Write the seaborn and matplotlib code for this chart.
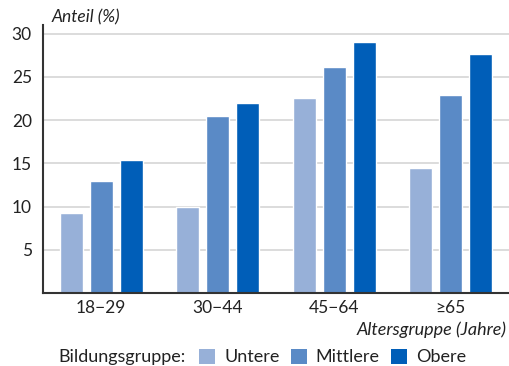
import pandas as pd
import numpy as np
import matplotlib.pyplot as plt
import seaborn as sns
from matplotlib.patches import Patch

altersgruppen = ["18\u221229", "30\u221244", "45\u221264", "\u226565"]
bildung = ["Untere", "Mittlere", "Obere"]
untere = [9.2, 10.0, 22.6, 14.5]
mittlere = [12.9, 20.5, 26.2, 22.9]
obere = [15.4, 22.0, 29.0, 27.7]
farben = ["#97b0d8", "#5a8ac6", "#005eb8"]

df = pd.DataFrame({
    "Altersgruppe": altersgruppen * 3,
    "Bildung": np.repeat(bildung, 4),
    "Anteil": untere + mittlere + obere,
})

sns.set_style("white")
plt.rcParams["font.family"] = ["Lato", "DejaVu Sans"]

fig = plt.figure(figsize=(5.1, 3.66), dpi=100)
ax = fig.add_axes([0.0843, 0.1995, 0.914, 0.732])

sns.barplot(data=df, x="Altersgruppe", y="Anteil", hue="Bildung",
            palette=farben, width=0.77, gap=0.23, saturation=1,
            legend=False, ax=ax)

ax.set_ylim(0, 31)
ax.set_xlim(-0.5, 3.5)
ax.set_yticks([5, 10, 15, 20, 25, 30])
ax.yaxis.grid(True, color="#d5d5d5", linewidth=1.2)
ax.set_axisbelow(True)
ax.set_xlabel("")
ax.set_ylabel("")

ax.set_xticks(range(4))
ax.set_xticklabels(altersgruppen)
ax.set_xticks([-0.5, 0.5, 1.5, 2.5, 3.5], minor=True)
ax.tick_params(axis="x", which="major", length=0, labelsize=12.5, pad=5, colors="#222222")
ax.tick_params(axis="x", which="minor", length=7, width=1.2, direction="out", color="#333333")
ax.tick_params(axis="y", length=7, width=1.2, direction="out", color="#333333",
               labelsize=12.5, labelcolor="#222222", pad=1)

for s in ["top", "right"]:
    ax.spines[s].set_visible(False)
for s in ["left", "bottom"]:
    ax.spines[s].set_color("#333333")
    ax.spines[s].set_linewidth(1.5)

fig.text(52 / 510, 1 - 17 / 366, "Anteil (%)", style="italic", fontsize=12.5,
         va="center", ha="left", color="#222222")
fig.text(507 / 510, 1 - 330 / 366, "Altersgruppe (Jahre)", style="italic", fontsize=13,
         va="center", ha="right", color="#222222")

fig.text(58 / 510, 1 - 357 / 366, "Bildungsgruppe:", fontsize=13,
         va="center", ha="left", color="#222222")
handles = [Patch(facecolor=c, edgecolor="none") for c in farben]
fig.legend(handles, bildung, loc="center left", bbox_to_anchor=(190 / 510, 1 - 357 / 366),
           ncol=3, frameon=False, fontsize=13, handlelength=0.9, handleheight=0.9,
           handletextpad=0.5, columnspacing=0.6, borderpad=0, labelcolor="#222222")

fig.savefig("out.png", dpi=100)
